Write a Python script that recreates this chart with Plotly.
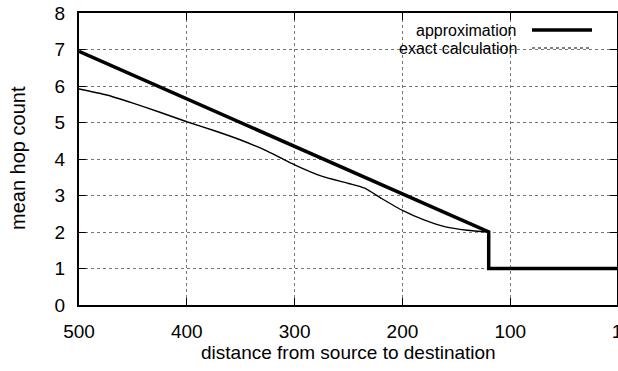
import plotly.graph_objects as go

# data
approx_x = [500, 120, 120, 1]
approx_y = [6.95, 2.0, 1.0, 1.0]

exact_x = [500, 475, 450, 425, 400, 375, 350, 325, 300, 275, 250, 235, 220, 200, 180, 160, 140, 120, 120, 1]
exact_y = [5.92, 5.76, 5.53, 5.28, 5.02, 4.78, 4.52, 4.21, 3.84, 3.53, 3.33, 3.20, 2.93, 2.59, 2.33, 2.14, 2.05, 2.0, 1.0, 1.0]

xtick_vals = [500, 400, 300, 200, 100, 1]
xtick_text = ["500", "400", "300", "200", "100", "1"]
ytick_vals = [0, 1, 2, 3, 4, 5, 6, 7, 8]

FONT = "Liberation Sans, Arial, sans-serif"
FS = 19

# smooth part of exact curve (up to the drop), and the step tail
split = exact_x.index(120) + 1
fig = go.Figure()
fig.add_trace(go.Scatter(x=exact_x[:split], y=exact_y[:split], mode="lines", name="exact calculation",
                         line=dict(color="black", width=1.4, shape="spline", smoothing=0.6),
                         showlegend=False))
fig.add_trace(go.Scatter(x=exact_x[split - 1:], y=exact_y[split - 1:], mode="lines",
                         line=dict(color="black", width=1.4), showlegend=False))
fig.add_trace(go.Scatter(x=approx_x, y=approx_y, mode="lines", name="approximation",
                         line=dict(color="black", width=3.5), showlegend=False))

L, R, T, B = 79, 1, 13, 66
W, H = 618, 371
pw = W - L - R
ph = H - T - B

def px(xp):
    return (xp - L) / pw

def py(yp):
    return (H - B - yp) / ph

axis_common = dict(
    showline=True, linecolor="black", linewidth=2, mirror="ticks",
    ticks="inside", ticklen=7, tickwidth=1, tickcolor="black",
    showgrid=True, gridcolor="#777777", gridwidth=1, griddash="dot",
    zeroline=False, tickfont=dict(family=FONT, size=FS, color="black"),
)

fig.update_xaxes(range=[500, 1], tickmode="array", tickvals=xtick_vals, ticktext=xtick_text,
                 ticklabelstandoff=8, ticklabeloverflow="allow", automargin=False, **axis_common)
fig.update_yaxes(range=[0, 8], tickmode="array", tickvals=ytick_vals,
                 ticklabelstandoff=8, automargin=False, **axis_common)

# key (legend) box, gnuplot style
fig.add_shape(type="rect", xref="paper", yref="paper", x0=px(300), x1=1.0, y0=py(58), y1=1.0,
              fillcolor="white", line=dict(width=0), layer="between")
fig.add_shape(type="line", xref="paper", yref="paper", x0=px(532), x1=px(592), y0=py(30), y1=py(30),
              line=dict(color="black", width=3.5))
fig.add_shape(type="line", xref="paper", yref="paper", x0=px(532), x1=px(592), y0=py(48), y1=py(48),
              line=dict(color="black", width=1, dash="dot"))
fig.add_annotation(x=px(518), y=py(30), xref="paper", yref="paper", text="approximation",
                   showarrow=False, xanchor="right", yanchor="middle", borderpad=0,
                   font=dict(family=FONT, size=16, color="black"))
fig.add_annotation(x=px(518), y=py(48), xref="paper", yref="paper", text="exact calculation",
                   showarrow=False, xanchor="right", yanchor="middle", borderpad=0,
                   font=dict(family=FONT, size=16, color="black"))

# axis titles
fig.add_annotation(x=px(348), y=py(352), xref="paper", yref="paper",
                   text="distance from source to destination", showarrow=False,
                   xanchor="center", yanchor="middle", font=dict(family=FONT, size=FS, color="black"))
fig.add_annotation(x=px(18), y=py(158), xref="paper", yref="paper",
                   text="mean hop count", showarrow=False, textangle=-90,
                   xanchor="center", yanchor="middle", font=dict(family=FONT, size=20, color="black"))

fig.update_layout(width=W, height=H, margin=dict(l=L, r=R, t=T, b=B, autoexpand=False),
                  plot_bgcolor="white", paper_bgcolor="white", showlegend=False)

fig.write_html("out.html")
